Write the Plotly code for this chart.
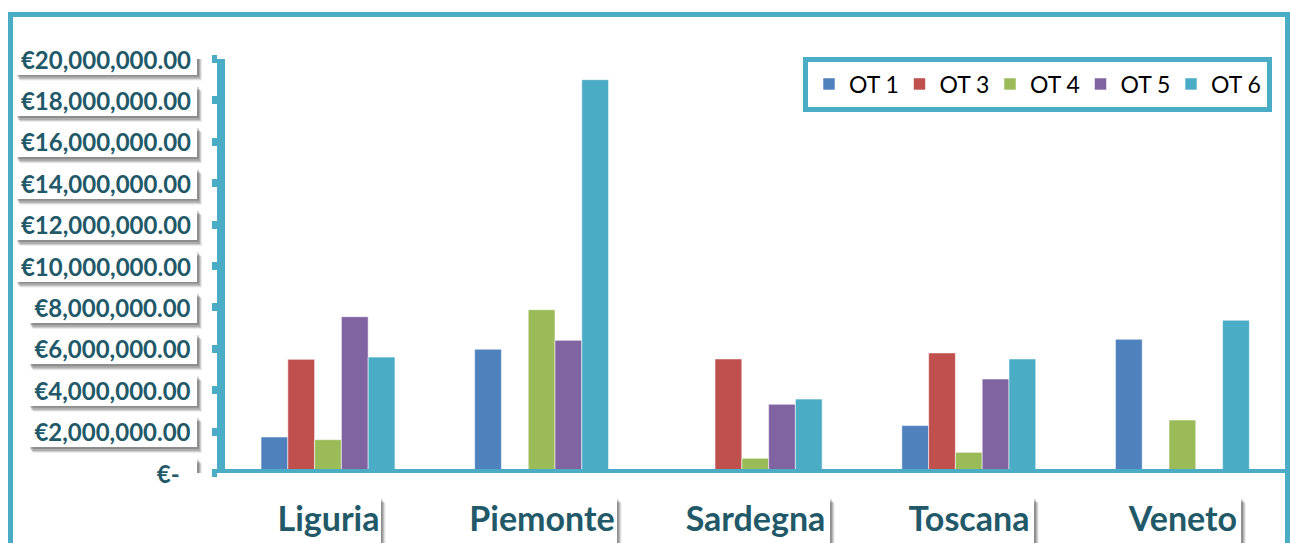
import plotly.graph_objects as go

# ---- data -------------------------------------------------------------
regions = ["Liguria", "Piemonte", "Sardegna", "Toscana", "Veneto"]
series_names = ["OT 1", "OT 3", "OT 4", "OT 5", "OT 6"]
ot1 = [1.74e6, 5.98e6, None, 2.29e6, 6.46e6]
ot3 = [5.49e6, None, 5.51e6, 5.80e6, None]
ot4 = [1.61e6, 7.89e6, 0.71e6, 1.00e6, 2.56e6]
ot5 = [7.55e6, 6.41e6, 3.32e6, 4.54e6, None]
ot6 = [5.60e6, 19.0e6, 3.57e6, 5.51e6, 7.38e6]
series_values = [ot1, ot3, ot4, ot5, ot6]

tick_values = [0, 2e6, 4e6, 6e6, 8e6, 10e6, 12e6, 14e6, 16e6, 18e6, 20e6]
tick_labels = ["€-", "€2,000,000.00", "€4,000,000.00", "€6,000,000.00",
               "€8,000,000.00", "€10,000,000.00", "€12,000,000.00",
               "€14,000,000.00", "€16,000,000.00", "€18,000,000.00",
               "€20,000,000.00"]

# ---- styling ----------------------------------------------------------
colors = ["#4F81BD", "#C0504D", "#9BBB59", "#8064A2", "#4BACC6"]
teal = "#4BACC6"
label_color = "#215968"
FONT = "Lato"

W_PX, H_PX = 1291, 543
L, R, T, B = 225, 1289, 59, 473          # plot area in pixels
PW, PH = R - L, B - T
SLOT = 213.6                             # pixels per category slot
FIRST = 328                              # pixel centre of first category

cat_box_w = [105, 150, 149, 130, 117]    # label box widths (px)
cat_box_h = 48
val_box_h = 31


def px(x):
    return (x - L) / PW


def py(y):
    return (B - y) / PH


def val_box_w(label):
    return max(46, 13 * len(label))


fig = go.Figure()
for name, vals, col in zip(series_names, series_values, colors):
    fig.add_trace(go.Bar(
        x=list(range(len(regions))), y=vals, name=name,
        marker=dict(color=col, line=dict(color="rgba(255,255,255,0.55)", width=1)),
    ))

shapes = []
# outer frame
shapes.append(dict(type="rect", xref="paper", yref="paper",
                   x0=px(10.5), x1=px(1287.5), y0=py(560), y1=py(14.5),
                   line=dict(color=teal, width=5), layer="below"))
# legend frame
shapes.append(dict(type="rect", xref="paper", yref="paper",
                   x0=px(805.5), x1=px(1269.5), y0=py(109.5), y1=py(59.5),
                   line=dict(color=teal, width=5)))
# baseline shadow + baseline at zero
shapes.append(dict(type="rect", xref="paper", yref="y", ysizemode="pixel", yanchor=0,
                   x0=px(215), x1=px(1286), y0=-4, y1=-8,
                   fillcolor="rgba(0,0,0,0.22)", line=dict(width=0)))
shapes.append(dict(type="rect", xref="paper", yref="y", ysizemode="pixel", yanchor=0,
                   x0=px(212), x1=px(1286), y0=-4, y1=4,
                   fillcolor=teal, line=dict(width=0)))

SHADOW = [(5, 6, 0.08), (4, 5, 0.12), (3, 4, 0.16), (2, 2, 0.18)]

annotations = []

# value axis labels in white boxes with a soft drop shadow
for v, lab in zip(tick_values, tick_labels):
    w = val_box_w(lab)
    for dx, dy, a in SHADOW:
        shapes.append(dict(type="rect", xref="paper", xsizemode="pixel", xanchor=px(197),
                           x0=-w + dx, x1=dx, yref="y", ysizemode="pixel", yanchor=v,
                           y0=-val_box_h / 2 - dy, y1=val_box_h / 2 - dy,
                           fillcolor=f"rgba(0,0,0,{a})", line=dict(width=0),
                           layer="above"))
    annotations.append(dict(
        text=lab if v else "\u00a0" + lab, showarrow=False, bgcolor="white",
        borderpad=0, borderwidth=0,
        width=w, height=val_box_h, align="center" if v else "left",
        xref="paper", x=px(197), xanchor="right", yref="y", y=v, yanchor="middle",
        font=dict(family=FONT, size=24, color=label_color, weight="bold")))

# category labels
for i, reg in enumerate(regions):
    w = cat_box_w[i]
    for dx, dy, a in SHADOW:
        shapes.append(dict(type="rect", xref="x", xsizemode="pixel", xanchor=i,
                           x0=-w / 2 + dx, x1=w / 2 + dx, yref="paper",
                           ysizemode="pixel", yanchor=py(497),
                           y0=-cat_box_h - dy, y1=-dy,
                           fillcolor=f"rgba(0,0,0,{a})", line=dict(width=0),
                           layer="above"))
    annotations.append(dict(
        text=reg, showarrow=False, bgcolor="white", borderpad=0, borderwidth=0,
        width=w, height=cat_box_h, xref="x", x=i, xanchor="center",
        yref="paper", y=py(497), yanchor="top", valign="top",
        font=dict(family=FONT, size=34, color=label_color, weight="bold")))

x0_range = -(FIRST - L) / SLOT
fig.update_layout(
    width=W_PX, height=H_PX,
    margin=dict(l=L, r=W_PX - R, t=T, b=H_PX - B, pad=0),
    paper_bgcolor="white", plot_bgcolor="white",
    barmode="group", bargap=0.373, bargroupgap=0,
    showlegend=True,
    legend=dict(orientation="h", x=px(809), xanchor="left", y=py(84), yanchor="middle",
                bgcolor="rgba(0,0,0,0)", borderwidth=0,
                font=dict(family=FONT, size=23, color="#000000"),
                entrywidth=45.5, entrywidthmode="pixels", itemwidth=30),
    xaxis=dict(range=[x0_range, x0_range + PW / SLOT],
               showticklabels=False, ticks="", showgrid=False, zeroline=False,
               showline=False, fixedrange=True),
    yaxis=dict(range=[0, 20e6], tickvals=tick_values, showticklabels=False,
               ticks="outside", ticklen=5, tickwidth=8, tickcolor=teal,
               showline=True, linecolor=teal, linewidth=8,
               showgrid=False, zeroline=False, fixedrange=True),
    shapes=shapes, annotations=annotations,
)

fig.write_html("out.html", config={"displayModeBar": False})
